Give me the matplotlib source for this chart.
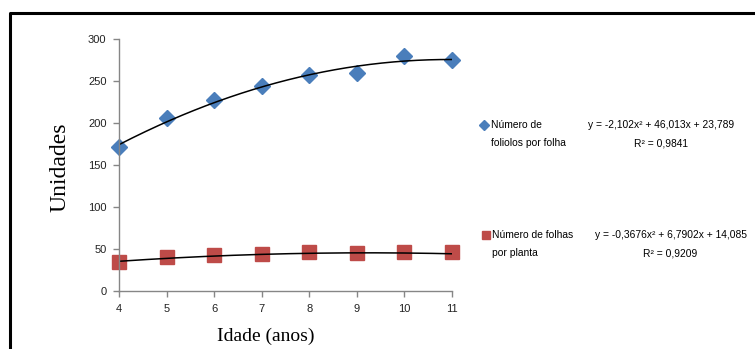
import numpy as np
import matplotlib.pyplot as plt
from matplotlib.lines import Line2D

idade = [4, 5, 6, 7, 8, 9, 10, 11]
foliolos = [171, 206, 227, 244, 257, 259, 280, 275]
folhas = [34, 41, 43, 43.5, 46, 45, 46, 46.5]

# coeficientes das linhas de tendencia (polinomio de 2o grau)
coef_foliolos = [-2.102, 46.013, 23.789]
coef_folhas = [-0.3676, 6.7902, 14.085]
r2_foliolos = 0.9841
r2_folhas = 0.9209

cor_azul = '#4a7ebb'
cor_verm = '#be4b48'
fonte = ['Liberation Sans Narrow', 'Liberation Sans', 'DejaVu Sans']

W, H = 755, 349
fig = plt.figure(figsize=(W / 100, H / 100), dpi=100)

def fx(px):
    return px / W

def fy(py):
    return 1 - py / H

ax = fig.add_axes([fx(119), fy(291), fx(452) - fx(119), fy(39) - fy(291)])

xs = np.linspace(4, 11, 200)
ax.plot(xs, np.polyval(coef_foliolos, xs), color='black', lw=1.1, zorder=2)
ax.plot(xs, np.polyval(coef_folhas, xs), color='black', lw=1.1, zorder=2)
ax.plot(idade, foliolos, 'D', color=cor_azul, markersize=8, zorder=1, clip_on=False)
ax.plot(idade, folhas, 's', color=cor_verm, markersize=9.5, zorder=1, clip_on=False)

ax.set_xlim(4, 11)
ax.set_ylim(0, 300)
ax.set_xticks(idade)
ax.set_yticks(range(0, 301, 50))
for s in ['top', 'right']:
    ax.spines[s].set_visible(False)
for s in ['left', 'bottom']:
    ax.spines[s].set_color('#868686')
    ax.spines[s].set_linewidth(1)
ax.tick_params(direction='out', length=4, width=1, color='#868686',
               labelsize=8, labelcolor='#222222', pad=5)
for lab in ax.get_xticklabels() + ax.get_yticklabels():
    lab.set_family(fonte)

ax.set_xlabel('Idade (anos)', family='Liberation Serif', fontsize=14)
ax.xaxis.set_label_coords(0.44, -0.145)
ax.set_ylabel('Unidades', family='Liberation Serif', fontsize=17)
ax.yaxis.set_label_coords(-0.147, 0.49)

# legenda e equacoes
fs = 7.4
fig.add_artist(Line2D([fx(484)], [fy(125)], marker='D', color=cor_azul,
                      markersize=5, transform=fig.transFigure))
fig.text(fx(491), fy(125), 'Número de', family=fonte, fontsize=fs, va='center')
fig.text(fx(491), fy(143), 'foliolos por folha', family=fonte, fontsize=fs, va='center')
fig.add_artist(Line2D([fx(486)], [fy(235)], marker='s', color=cor_verm,
                      markersize=6, transform=fig.transFigure))
fig.text(fx(492), fy(235), 'Número de folhas', family=fonte, fontsize=fs, va='center')
fig.text(fx(492), fy(253), 'por planta', family=fonte, fontsize=fs, va='center')

def eq(c):
    txt = 'y = %sx² + %sx + %s' % tuple(('%g' % v).replace('.', ',') for v in c)
    return txt.replace('+ -', '- ')

fig.text(fx(661), fy(125), eq(coef_foliolos), family=fonte, fontsize=fs, ha='center', va='center')
fig.text(fx(661), fy(143), 'R² = ' + ('%g' % r2_foliolos).replace('.', ','),
         family=fonte, fontsize=fs, ha='center', va='center')
fig.text(fx(671), fy(235), eq(coef_folhas), family=fonte, fontsize=fs, ha='center', va='center')
fig.text(fx(670), fy(253), 'R² = ' + ('%g' % r2_folhas).replace('.', ','),
         family=fonte, fontsize=fs, ha='center', va='center')

# moldura
fig.add_artist(Line2D([fx(10), fx(10), fx(756)], [0, fy(12.5), fy(12.5)],
                      color='black', lw=2.2, transform=fig.transFigure))

fig.savefig('out.png', dpi=100)
